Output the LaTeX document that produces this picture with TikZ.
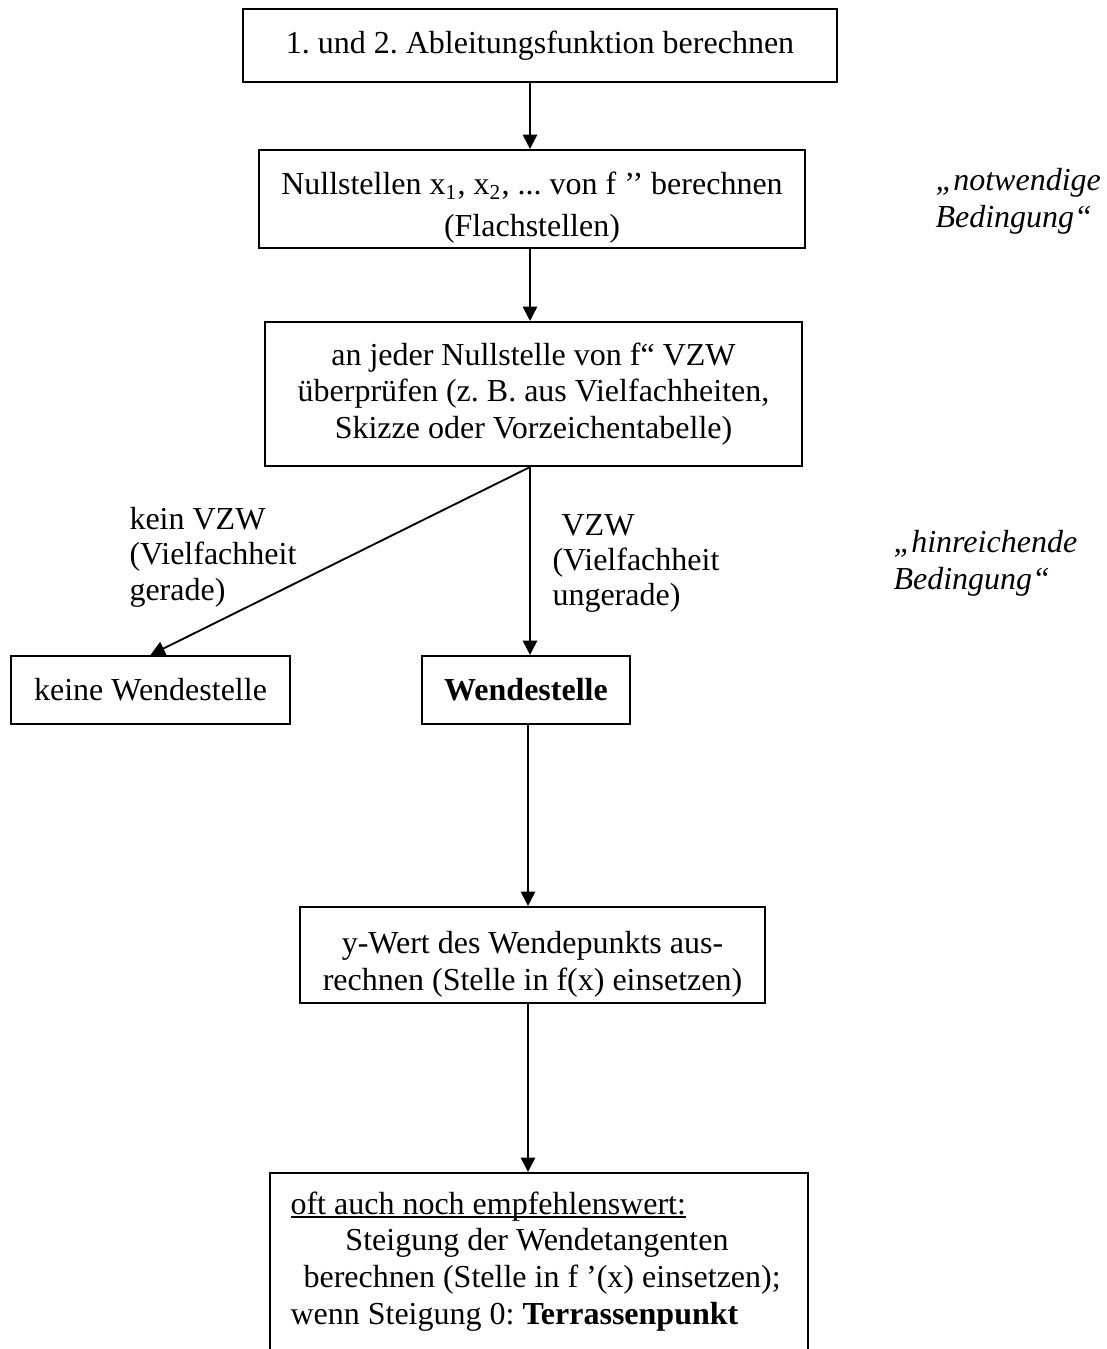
\documentclass[tikz,border=0pt]{standalone}
\usepackage{fontspec}
\setmainfont{Liberation Serif}
\usetikzlibrary{arrows.meta}
\frenchspacing
\newcommand\myul[1]{\setbox0\hbox{#1}\rlap{\rule[-1.5pt]{\wd0}{0.6pt}}\box0}
\begin{document}
\begin{tikzpicture}[x=0.375pt, y=-0.375pt,
  f12/.style={font=\fontsize{12}{13.8}\selectfont},
  box/.style={draw, line width=0.8pt, inner sep=0pt, align=center, f12},
  arr/.style={line width=0.7pt, -{Triangle[length=5.4pt,width=5.4pt]}},
  lbl/.style={inner sep=0pt, align=left, anchor=north west, f12},
  ilbl/.style={inner sep=0pt, align=left, anchor=north west, font=\fontsize{12}{13.8}\selectfont\itshape},
  slbl/.style={inner sep=0pt, align=left, anchor=north west, font=\fontsize{12}{13.2}\selectfont}]
\useasboundingbox (0,0) rectangle (1107,1349);
\clip (0,0) rectangle (1107,1349);
\coordinate (ax) at (530,0);
\coordinate (bx) at (528,0);
% boxes
\node[box, minimum width=222.75pt, minimum height=27.4pt] (b1) at (540,45.5) {1. und 2. Ableitungsfunktion berechnen};
\node[box, minimum width=204.75pt, minimum height=36.75pt] (b2) at (532,199) {\rule{0pt}{15pt}Nullstellen x\textsubscript{1}, x\textsubscript{2}, ... von f ’’ berechnen\\[2pt](Flachstellen)};
\node[box, minimum width=201.4pt, minimum height=54pt] (b3) at (533.5,394) {an jeder Nullstelle von f“ VZW\\überprüfen (z. B. aus Vielfachheiten,\\Skizze oder Vorzeichentabelle)};
\node[box, minimum width=104.6pt, minimum height=25.5pt] (b4) at (150.5,690) {keine Wendestelle};
\node[box, minimum width=78pt, minimum height=25.5pt] (b5) at (526,690) {\textbf{Wendestelle}};
\node[box, minimum width=174.4pt, minimum height=36pt] (b6) at (532.5,955) {\rule{0pt}{15pt}y-Wert des Wendepunkts aus-\\rechnen (Stelle in f(x) einsetzen)};
\node[box, minimum width=201.75pt, minimum height=85.1pt] (b7) at (539,1286.5) {};
\node[lbl] (t7) at (290,1191) {\myul{oft auch noch empfehlenswert:}\\\hspace*{20.6pt}Steigung der Wendetangenten\\\hspace*{4.9pt}berechnen (Stelle in f ’(x) einsetzen);\\wenn Steigung 0: \textbf{Terrassenpunkt}};
% connectors
\draw[arr] (b1.south -| ax) -- (b2.north -| ax);
\draw[arr] (b2.south -| ax) -- (b3.north -| ax);
\draw[arr] (b3.south -| ax) -- (b4.north);
\draw[arr] (b3.south -| ax) -- (b5.north -| ax);
\draw[arr] (b5.south -| bx) -- (b6.north -| bx);
\draw[arr] (b6.south -| bx) -- (b7.north -| bx);
% labels
\node[ilbl] (l1) at (935,168) {„notwendige\\Bedingung“};
\node[ilbl] (l2) at (893,530) {„hinreichende\\Bedingung“};
\node[slbl] (l3) at (129,507) {kein VZW\\(Vielfachheit\\gerade)};
\node[slbl] (l4) at (552,514) {\hspace*{3.4pt}VZW\\(Vielfachheit\\ungerade)};
\end{tikzpicture}
\end{document}
